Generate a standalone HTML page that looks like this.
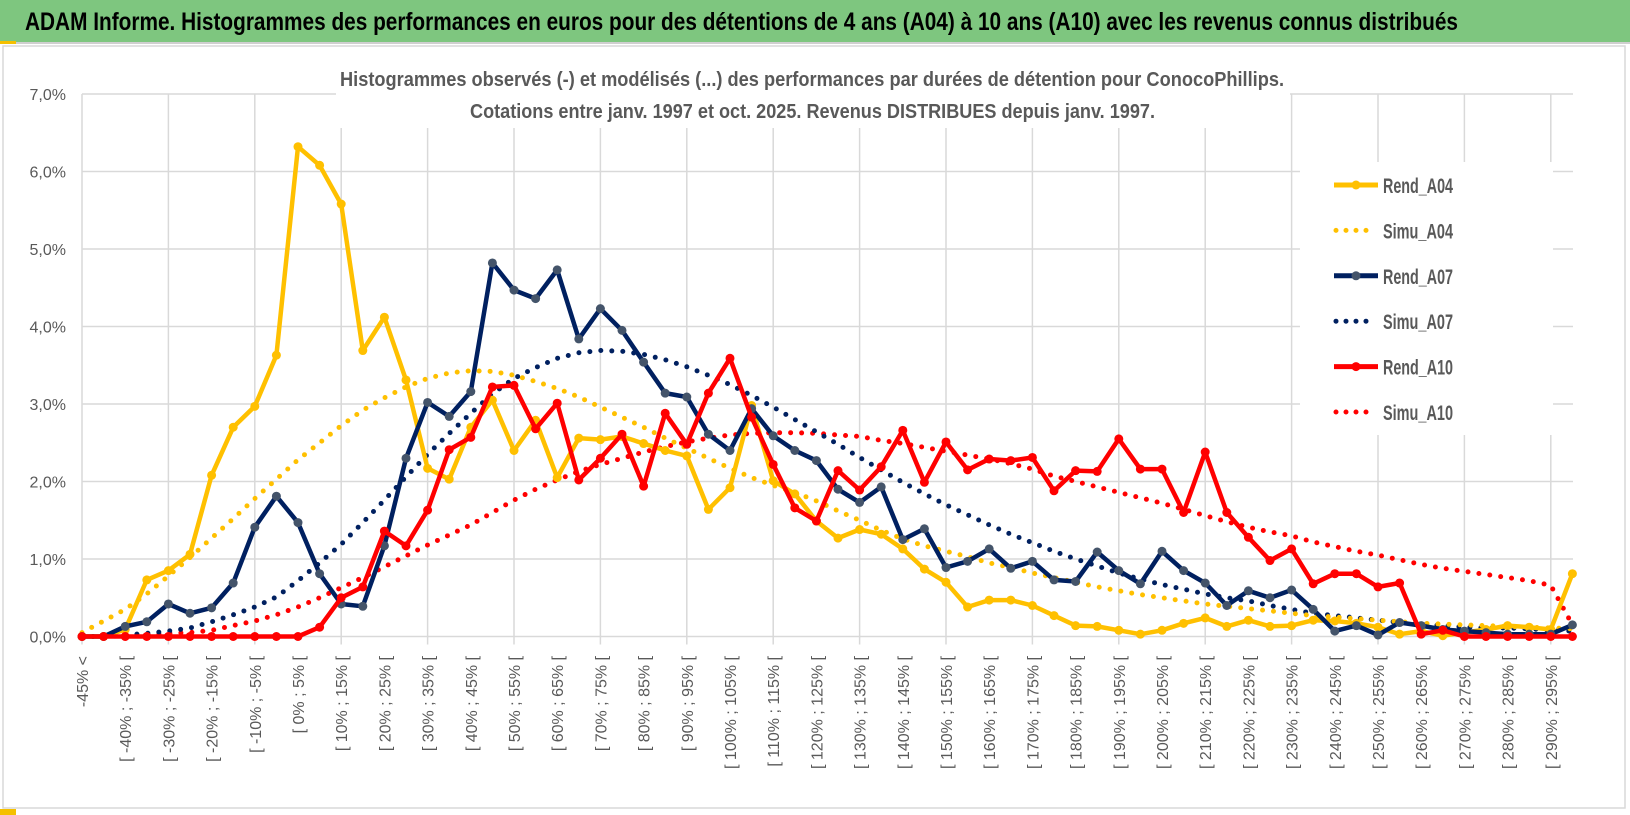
<!DOCTYPE html>
<html><head><meta charset="utf-8"><style>
html,body{margin:0;padding:0;background:#fff;}
svg{display:block;}
</style></head><body>
<svg id="chart" width="1630" height="815" viewBox="0 0 1630 815" xmlns="http://www.w3.org/2000/svg" font-family="'Liberation Sans', sans-serif">
<rect x="0" y="0" width="1630" height="42" fill="#7ec67f"/>
<rect x="0" y="42" width="1630" height="2" fill="#cfcfcf"/>
<rect x="0" y="41" width="16" height="3" fill="#f5c000"/>
<text x="25" y="30" font-size="25" font-weight="bold" font-family="'Liberation Sans Narrow','Liberation Sans',sans-serif" fill="#000" textLength="1433" lengthAdjust="spacingAndGlyphs">ADAM Informe. Histogrammes des performances en euros pour des détentions de 4 ans (A04) à 10 ans (A10) avec les revenus connus distribués</text>
<rect x="3" y="46" width="1622" height="762" fill="#fff" stroke="#d9d9d9" stroke-width="1.5"/>
<g id="grid"></g>
<rect x="336" y="58" width="954" height="70" fill="#fff"/>
<text x="340" y="86" font-size="20" font-weight="bold" font-family="'Liberation Sans Narrow','Liberation Sans',sans-serif" fill="#595959" textLength="944" lengthAdjust="spacingAndGlyphs">Histogrammes observés (-) et modélisés (...) des performances par durées de détention pour ConocoPhillips.</text>
<text x="470" y="118" font-size="20" font-weight="bold" font-family="'Liberation Sans Narrow','Liberation Sans',sans-serif" fill="#595959" textLength="685" lengthAdjust="spacingAndGlyphs">Cotations entre janv. 1997 et oct. 2025.  Revenus DISTRIBUES depuis janv. 1997.</text>
<rect x="1300" y="162" width="253" height="273" fill="#fff"/>
<g id="series"></g>
<g id="axes"></g>
<g id="legend"></g>
<rect x="0" y="809" width="16" height="6" fill="#f5c000"/>
</svg>
<script>
const categoriesCount = 70;
const yTicks = [0,1,2,3,4,5,6,7];
const rendA04 = [0,0,0.09,0.73,0.85,1.06,2.08,2.70,2.97,3.63,6.32,6.08,5.58,3.69,4.12,3.31,2.17,2.03,2.70,3.05,2.40,2.79,2.05,2.56,2.54,2.58,2.49,2.40,2.33,1.64,1.92,2.98,2.01,1.84,1.49,1.27,1.38,1.32,1.13,0.87,0.70,0.38,0.47,0.47,0.40,0.27,0.14,0.13,0.08,0.03,0.08,0.17,0.24,0.13,0.21,0.13,0.14,0.21,0.20,0.17,0.12,0.03,0.07,0.01,0.05,0.09,0.14,0.12,0.09,0.81];
const simuA04 = [0.05,0.2,0.35,0.55,0.78,1.02,1.27,1.52,1.78,2.03,2.28,2.5,2.72,2.92,3.08,3.22,3.33,3.4,3.43,3.42,3.37,3.29,3.2,3.09,2.96,2.83,2.7,2.56,2.43,2.3,2.17,2.05,1.95,1.86,1.75,1.62,1.5,1.37,1.26,1.17,1.1,1.03,0.95,0.89,0.82,0.76,0.7,0.64,0.59,0.54,0.5,0.46,0.42,0.39,0.36,0.33,0.3,0.27,0.25,0.23,0.21,0.19,0.17,0.16,0.15,0.14,0.13,0.12,0.11,0.1];
const rendA07 = [0,0,0.13,0.19,0.42,0.30,0.37,0.69,1.41,1.81,1.47,0.81,0.42,0.39,1.17,2.30,3.02,2.84,3.16,4.82,4.47,4.36,4.73,3.84,4.23,3.95,3.54,3.14,3.09,2.61,2.40,2.94,2.59,2.40,2.27,1.90,1.73,1.93,1.25,1.39,0.89,0.97,1.13,0.88,0.97,0.73,0.71,1.09,0.85,0.68,1.10,0.85,0.69,0.40,0.59,0.50,0.60,0.35,0.07,0.14,0.02,0.18,0.14,0.09,0.07,0.05,0.03,0.03,0.03,0.15];
const simuA07 = [0,0,0.02,0.04,0.07,0.11,0.19,0.28,0.38,0.51,0.72,0.95,1.19,1.47,1.76,2.06,2.35,2.62,2.88,3.13,3.33,3.47,3.59,3.66,3.69,3.68,3.64,3.57,3.48,3.37,3.25,3.11,2.96,2.8,2.64,2.48,2.31,2.15,1.99,1.84,1.7,1.57,1.44,1.32,1.21,1.1,1.0,0.91,0.82,0.74,0.67,0.61,0.55,0.5,0.46,0.4,0.35,0.3,0.27,0.24,0.21,0.18,0.16,0.14,0.12,0.11,0.11,0.1,0.08,0.07];
const rendA10 = [0,0,0,0,0,0,0,0,0,0,0,0.12,0.50,0.64,1.36,1.17,1.63,2.41,2.57,3.22,3.24,2.68,3.01,2.02,2.30,2.61,1.94,2.88,2.48,3.14,3.59,2.83,2.22,1.66,1.49,2.14,1.89,2.19,2.66,1.99,2.51,2.15,2.29,2.27,2.31,1.88,2.14,2.13,2.55,2.16,2.16,1.60,2.38,1.60,1.28,0.98,1.13,0.68,0.81,0.81,0.64,0.69,0.03,0.08,0,0,0,0,0,0];
const simuA10 = [0,0,0.01,0.02,0.04,0.05,0.08,0.14,0.2,0.28,0.38,0.5,0.63,0.76,0.9,1.04,1.18,1.31,1.44,1.6,1.76,1.9,2.02,2.13,2.22,2.3,2.38,2.45,2.51,2.56,2.6,2.62,2.63,2.63,2.62,2.6,2.58,2.53,2.49,2.44,2.39,2.34,2.29,2.23,2.16,2.07,2.0,1.93,1.86,1.79,1.72,1.64,1.56,1.48,1.41,1.35,1.3,1.22,1.16,1.1,1.05,0.99,0.93,0.88,0.84,0.8,0.76,0.72,0.66,0.15];

const NS = "http://www.w3.org/2000/svg";
const X0 = 82, DX = 21.6, Y0 = 636.5, DY = 77.5, XR = 1573;
function xs(i){ return X0 + DX*i; }
function ys(v){ return Y0 - DY*v; }
function mk(tag, attrs, parent){
  const e = document.createElementNS(NS, tag);
  for (const k in attrs) e.setAttribute(k, attrs[k]);
  parent.appendChild(e);
  return e;
}
function catLabel(i){
  if (i === 0) return "-45% <";
  const lo = -50 + 5*i;
  return "[ " + lo + "% ; " + (lo+5) + "% [";
}
const grid = document.getElementById('grid');
yTicks.forEach(t => {
  const l = mk('line', {x1:X0, x2:XR, y1:ys(t), y2:ys(t), stroke:'#d9d9d9', 'stroke-width':1.5}, grid);
  
  
});
for (let i = 0; i < categoriesCount; i += 4) {
  const l = mk('line', {x1:xs(i), x2:xs(i), y1:ys(7), y2:ys(0)+8, stroke:'#d9d9d9', 'stroke-width':1.5}, grid);
  
  
}
const axes = document.getElementById('axes');
yTicks.forEach(t => {
  const tx = mk('text', {x:66, y:ys(t)+6, 'text-anchor':'end', 'font-size':16, fill:'#595959'}, axes);
  tx.textContent = t.toFixed(1).replace('.', ',') + '%';
  
  
});
for (let i = 0; i < categoriesCount; i += 2) {
  const x = xs(i) + 6, y = 656;
  const tx = mk('text', {x:x, y:y, 'text-anchor':'end', 'font-size':16, fill:'#595959', transform:'rotate(-90 '+x+' '+y+')'}, axes);
  tx.textContent = catLabel(i);
  
  
}
const seriesG = document.getElementById('series');
function dotted(vals, color, name){
  const d = vals.map((v,i)=>(i?'L':'M')+xs(i).toFixed(1)+' '+ys(v).toFixed(1)).join(' ');
  const p = mk('path', {d:d, fill:'none', stroke:color, 'stroke-width':5, 'stroke-linecap':'round', 'stroke-dasharray':'0 11'}, seriesG);
  
  
}
function solid(vals, color, mcolor, name){
  const g = mk('g', {}, seriesG);
  
  
  const d = vals.map((v,i)=>(i?'L':'M')+xs(i).toFixed(1)+' '+ys(v).toFixed(1)).join(' ');
  mk('path', {d:d, fill:'none', stroke:color, 'stroke-width':4.5, 'stroke-linejoin':'round'}, g);
  vals.forEach((v,i) => {
    const c = mk('circle', {cx:xs(i), cy:ys(v), r:4.5, fill:mcolor}, g);
    
    
  });
}
dotted(simuA10, '#ff0000', 'simu-a10-line');
dotted(simuA07, '#002060', 'simu-a07-line');
dotted(simuA04, '#ffc000', 'simu-a04-line');
solid(rendA04, '#ffc000', '#ffc000', 'rend-a04-line');
solid(rendA07, '#002060', '#44546a', 'rend-a07-line');
solid(rendA10, '#ff0000', '#ff0000', 'rend-a10-line');

const legend = document.getElementById('legend');
const legendItems = [
  ['Rend_A04', '#ffc000', '#ffc000', false],
  ['Simu_A04', '#ffc000', '#ffc000', true],
  ['Rend_A07', '#002060', '#44546a', false],
  ['Simu_A07', '#002060', '#002060', true],
  ['Rend_A10', '#ff0000', '#ff0000', false],
  ['Simu_A10', '#ff0000', '#ff0000', true]
];
legendItems.forEach((it, k) => {
  const y = 185 + k*45.4;
  const g = mk('g', {}, legend);
  
  
  if (it[3]) {
    mk('line', {x1:1336, x2:1376, y1:y, y2:y, stroke:it[1], 'stroke-width':5, 'stroke-linecap':'round', 'stroke-dasharray':'0 10'}, g);
  } else {
    mk('line', {x1:1334, x2:1378, y1:y, y2:y, stroke:it[1], 'stroke-width':5}, g);
    mk('circle', {cx:1356, cy:y, r:4.5, fill:it[2]}, g);
  }
  const t = mk('text', {x:1383, y:y+8, 'font-size':21, 'font-weight':'bold', fill:'#595959', 'font-family':"'Liberation Sans Narrow','Liberation Sans',sans-serif", textLength:70, lengthAdjust:'spacingAndGlyphs'}, g);
  t.textContent = it[0];
});
</script>
</body></html>
